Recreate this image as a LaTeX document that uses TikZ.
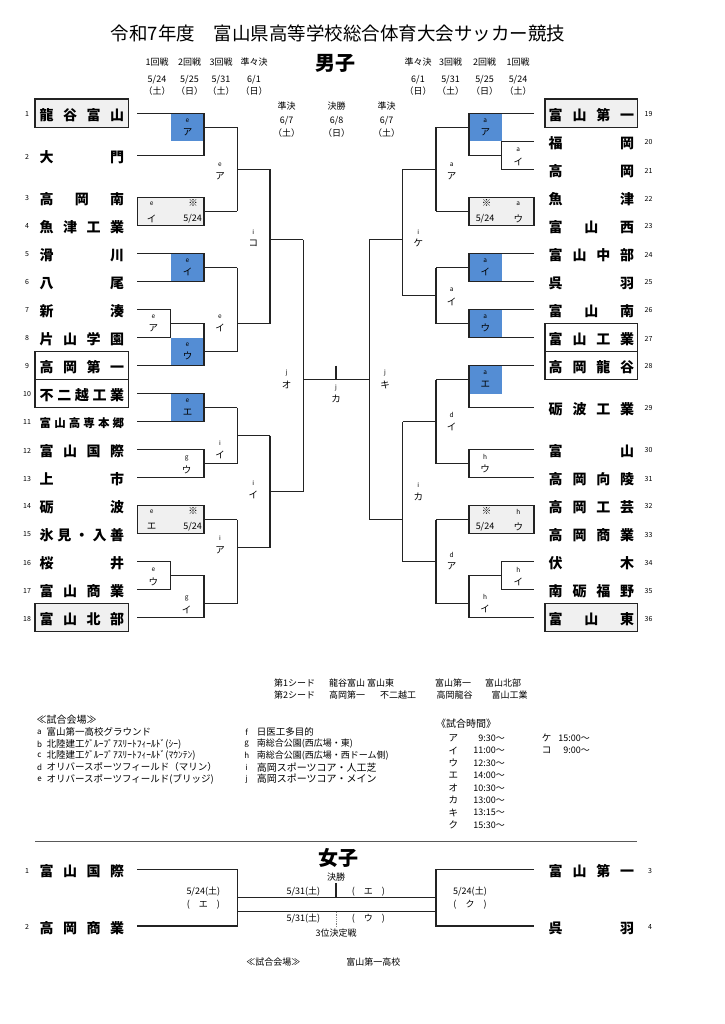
\documentclass[tikz,border=0pt]{standalone}
\usepackage{fontspec}
\setmainfont{Noto Sans CJK JP}
\definecolor{bluebx}{RGB}{84,141,212}
\definecolor{graybx}{RGB}{240,240,240}
\definecolor{linec}{RGB}{35,35,35}
\newcommand\fs[1]{\fontsize{#1}{#1}\selectfont}
\tikzset{
  ln/.style={line width=1.1pt,draw=linec},
  txt/.style={inner sep=0pt,font=\fs{9}},
  sm/.style={inner sep=0pt,font=\fs{6.5}},
  kn/.style={inner sep=0pt,font=\fs{9.5}},
  num/.style={inner sep=0pt,font=\fs{7}},
  seedA/.style={ln,fill=graybx},
  seedB/.style={ln,fill=white},
}
\newcommand\Lname[4]{\node[anchor=west,inner sep=0pt] (#1) at (39.5,#2+2) {\fs{#3}\bfseries\hbox to 84.5pt{#4}};}
\newcommand\Rname[4]{\node[anchor=west,inner sep=0pt] (#1) at (548.5,#2+2) {\fs{#3}\bfseries\hbox to 85.5pt{#4}};}
\newcommand\mlab[5]{\node[sm] (#1a) at (#2,#3) {#4}; \node[kn] (#1b) at (#2,#3+11.5) {#5};}
\begin{document}
\begin{tikzpicture}[x=1pt,y=-1pt]
\useasboundingbox (0,0) rectangle (724,1024);
% ---------- header ----------
\node[inner sep=0pt,font=\fs{18.5}] (title) at (338,33) {令和7年度　富山県高等学校総合体育大会サッカー競技};
\node[inner sep=0pt,font=\fs{20}\bfseries] (boys) at (335,63) {男子};
\node[txt] (h1) at (157,61.7) {1回戦};
\node[txt] (h2) at (189.5,61.7) {2回戦};
\node[txt] (h3) at (221,61.7) {3回戦};
\node[txt] (h4) at (254,61.7) {準々決};
\node[txt] (d1) at (157,80) {5/24};
\node[txt] (d2) at (189.5,80) {5/25};
\node[txt] (d3) at (221,80) {5/31};
\node[txt] (d4) at (254,80) {6/1};
\node[txt] (p1) at (157,91.5) {（土）};
\node[txt] (p2) at (189.5,91.5) {（日）};
\node[txt] (p3) at (221,91.5) {（土）};
\node[txt] (p4) at (254,91.5) {（日）};
\node[txt] (h5) at (418,61.7) {準々決};
\node[txt] (h6) at (450.5,61.7) {3回戦};
\node[txt] (h7) at (484.5,61.7) {2回戦};
\node[txt] (h8) at (518,61.7) {1回戦};
\node[txt] (d5) at (418,80) {6/1};
\node[txt] (d6) at (450.5,80) {5/31};
\node[txt] (d7) at (484.5,80) {5/25};
\node[txt] (d8) at (518,80) {5/24};
\node[txt] (p5) at (418,91.5) {（日）};
\node[txt] (p6) at (450.5,91.5) {（土）};
\node[txt] (p7) at (484.5,91.5) {（日）};
\node[txt] (p8) at (518,91.5) {（土）};
\node[txt] (c1) at (286.7,106) {準決};
\node[txt] (c2) at (286.7,121) {6/7};
\node[txt] (c3) at (286.7,133.3) {（土）};
\node[txt] (c4) at (336.7,106) {決勝};
\node[txt] (c5) at (336.7,121) {6/8};
\node[txt] (c6) at (336.7,133.3) {（日）};
\node[txt] (c7) at (386.7,106) {準決};
\node[txt] (c8) at (386.7,121) {6/7};
\node[txt] (c9) at (386.7,133.3) {（土）};
% ---------- seed boxes ----------
\draw[seedA] (35,99) rectangle (128.5,127.5);
\draw[seedB] (35,351.5) rectangle (128.5,379.5);
\draw[seedB] (35,379.5) rectangle (128.5,407.5);
\draw[seedA] (35,603.5) rectangle (128.5,631.5);
\draw[seedA] (545,99) rectangle (637.5,127.5);
\draw[seedB] (545,323.5) rectangle (637.5,351.5);
\draw[seedB] (545,351.5) rectangle (637.5,379.5);
\draw[seedA] (545,603.5) rectangle (637.5,631.5);
% ---------- fills ----------
\fill[bluebx] (171,113.5) rectangle (204,141.5);
\fill[bluebx] (171,253.5) rectangle (204,281.5);
\fill[bluebx] (171,337.5) rectangle (204,365.5);
\fill[bluebx] (171,393.5) rectangle (204,421.5);
\fill[bluebx] (469,113.5) rectangle (501.7,141.5);
\fill[bluebx] (469,253.5) rectangle (501.7,281.5);
\fill[bluebx] (469,309.5) rectangle (501.7,337.5);
\fill[bluebx] (469,365.5) rectangle (501.7,393.5);
\draw[seedA] (137.3,197.5) rectangle (204,225.5);
\draw[seedA] (137.3,505.5) rectangle (204,533.5);
\draw[seedA] (469,197.5) rectangle (534,225.5);
\draw[seedA] (469,505.5) rectangle (534,533.5);
% ---------- left bracket ----------
\draw[ln] (137.3,113.5) -- (204,113.5) -- (204,155.5) -- (137.3,155.5);
\draw[ln] (204,127.5) -- (237.3,127.5);
\draw[ln] (204,211.5) -- (237.3,211.5);
\draw[ln] (237.3,127.5) -- (237.3,211.5);
\draw[ln] (237.3,169.5) -- (270,169.5);
\draw[ln] (137.3,253.5) -- (204,253.5) -- (204,281.5) -- (137.3,281.5);
\draw[ln] (204,267.5) -- (237.3,267.5);
\draw[ln] (137.3,309.5) -- (170.7,309.5) -- (170.7,337.5) -- (137.3,337.5);
\draw[ln] (170.7,323.5) -- (204,323.5) -- (204,365.5) -- (137.3,365.5);
\draw[ln] (204,351.5) -- (237.3,351.5);
\draw[ln] (237.3,267.5) -- (237.3,351.5);
\draw[ln] (237.3,323.5) -- (270,323.5);
\draw[ln] (270,169.5) -- (270,323.5);
\draw[ln] (270,239.5) -- (303.3,239.5);
\draw[ln] (137.3,393.5) -- (204,393.5) -- (204,421.5) -- (137.3,421.5);
\draw[ln] (204,407.5) -- (237.3,407.5);
\draw[ln] (137.3,449.5) -- (204,449.5) -- (204,477.5) -- (137.3,477.5);
\draw[ln] (204,463.5) -- (237.3,463.5);
\draw[ln] (237.3,407.5) -- (237.3,463.5);
\draw[ln] (237.3,435.5) -- (270,435.5);
\draw[ln] (204,519.5) -- (237.3,519.5);
\draw[ln] (137.3,561.5) -- (170.7,561.5) -- (170.7,589.5) -- (137.3,589.5);
\draw[ln] (170.7,575.5) -- (204,575.5) -- (204,617.5) -- (137.3,617.5);
\draw[ln] (204,603.5) -- (237.3,603.5);
\draw[ln] (237.3,519.5) -- (237.3,603.5);
\draw[ln] (237.3,547.5) -- (270,547.5);
\draw[ln] (270,435.5) -- (270,547.5);
\draw[ln] (270,491.5) -- (303.3,491.5);
\draw[ln] (303.3,239.5) -- (303.3,491.5);
\draw[ln] (303.3,379.5) -- (369.3,379.5);
\draw[ln] (336,365.5) -- (336,379.5);
% ---------- right bracket ----------
\draw[ln] (534,113.5) -- (469,113.5) -- (469,155.5) -- (501.7,155.5);
\draw[ln] (534,141.5) -- (501.7,141.5) -- (501.7,169.5) -- (534,169.5);
\draw[ln] (469,127.5) -- (436,127.5);
\draw[ln] (469,211.5) -- (436,211.5);
\draw[ln] (436,127.5) -- (436,211.5);
\draw[ln] (436,169.5) -- (402.7,169.5);
\draw[ln] (534,253.5) -- (469,253.5) -- (469,281.5) -- (534,281.5);
\draw[ln] (469,267.5) -- (436,267.5);
\draw[ln] (534,309.5) -- (469,309.5) -- (469,337.5) -- (534,337.5);
\draw[ln] (469,323.5) -- (436,323.5);
\draw[ln] (436,267.5) -- (436,323.5);
\draw[ln] (436,295.5) -- (402.7,295.5);
\draw[ln] (402.7,169.5) -- (402.7,295.5);
\draw[ln] (402.7,239.5) -- (369.3,239.5);
\draw[ln] (534,365.5) -- (469,365.5) -- (469,407.5) -- (534,407.5);
\draw[ln] (469,379.5) -- (436,379.5);
\draw[ln] (534,449.5) -- (469,449.5) -- (469,477.5) -- (534,477.5);
\draw[ln] (469,463.5) -- (436,463.5);
\draw[ln] (436,379.5) -- (436,463.5);
\draw[ln] (436,421.5) -- (402.7,421.5);
\draw[ln] (469,519.5) -- (436,519.5);
\draw[ln] (534,561.5) -- (501.7,561.5) -- (501.7,589.5) -- (534,589.5);
\draw[ln] (501.7,575.5) -- (469,575.5) -- (469,617.5) -- (534,617.5);
\draw[ln] (469,603.5) -- (436,603.5);
\draw[ln] (436,519.5) -- (436,603.5);
\draw[ln] (436,561.5) -- (402.7,561.5);
\draw[ln] (402.7,421.5) -- (402.7,561.5);
\draw[ln] (402.7,519.5) -- (369.3,519.5);
\draw[ln] (369.3,239.5) -- (369.3,519.5);
% ---------- match labels left ----------
\mlab{m1}{187.5}{120.5}{e}{ア}
\mlab{m2}{187.5}{260.5}{e}{イ}
\mlab{m3}{187.5}{344.5}{e}{ウ}
\mlab{m4}{187.5}{400.5}{e}{エ}
\node[sm] (g1a) at (151.7,204) {e};
\node[kn] (g1b) at (193,203) {※};
\node[kn] (g1c) at (151.7,218.5) {イ};
\node[txt] (g1d) at (192.7,218.5) {5/24};
\node[sm] (g2a) at (151.7,512) {e};
\node[kn] (g2b) at (193,511) {※};
\node[kn] (g2c) at (151.7,526.5) {エ};
\node[txt] (g2d) at (192.7,526.5) {5/24};
\mlab{m5}{220}{165}{e}{ア}
\mlab{m6}{153.3}{316.5}{e}{ア}
\mlab{m7}{220}{316.7}{e}{イ}
\mlab{m8}{253.3}{231.7}{i}{コ}
\mlab{m9}{186.7}{458.3}{g}{ウ}
\mlab{m10}{220}{443.3}{i}{イ}
\mlab{m11}{153.3}{570}{e}{ウ}
\mlab{m12}{186.7}{598.3}{g}{イ}
\mlab{m13}{220}{538.3}{i}{ア}
\mlab{m14}{253.3}{483.3}{i}{イ}
\mlab{m15}{286.7}{373}{j}{オ}
\mlab{m16}{336}{387.5}{j}{カ}
% ---------- match labels right ----------
\mlab{r1}{485.3}{120.5}{a}{ア}
\mlab{r2}{485.3}{260.5}{a}{イ}
\mlab{r3}{485.3}{316.5}{a}{ウ}
\mlab{r4}{485.3}{372.5}{a}{エ}
\mlab{r5}{518.3}{150}{a}{イ}
\node[kn] (g3a) at (486.7,203) {※};
\node[sm] (g3b) at (518.3,204) {a};
\node[txt] (g3c) at (485,218.5) {5/24};
\node[kn] (g3d) at (518.3,218.5) {ウ};
\node[kn] (g4a) at (486.7,511) {※};
\node[sm] (g4b) at (518.3,512) {h};
\node[txt] (g4c) at (485,526.5) {5/24};
\node[kn] (g4d) at (518.3,526.5) {ウ};
\mlab{r6}{451.7}{165}{a}{ア}
\mlab{r7}{451.7}{290}{a}{イ}
\mlab{r8}{418.3}{231.7}{i}{ケ}
\mlab{r9}{485}{457}{h}{ウ}
\mlab{r10}{451.7}{415}{d}{イ}
\mlab{r11}{518.3}{570}{h}{イ}
\mlab{r12}{485}{597}{h}{イ}
\mlab{r13}{451.7}{555}{d}{ア}
\mlab{r14}{418.3}{485}{i}{カ}
\mlab{r15}{385}{373}{j}{キ}
% ---------- team names left ----------
\Lname{t1}{113.5}{14}{龍\hfill 谷\hfill 富\hfill 山}
\Lname{t2}{155.5}{14}{大\hfill 門}
\Lname{t3}{197.5}{14}{高\hfill 岡\hfill 南}
\Lname{t4}{225.5}{14}{魚\hfill 津\hfill 工\hfill 業}
\Lname{t5}{253.5}{14}{滑\hfill 川}
\Lname{t6}{281.5}{14}{八\hfill 尾}
\Lname{t7}{309.5}{14}{新\hfill 湊}
\Lname{t8}{337.5}{14}{片\hfill 山\hfill 学\hfill 園}
\Lname{t9}{365.5}{14}{高\hfill 岡\hfill 第\hfill 一}
\Lname{t10}{393.5}{14}{不\hfill 二\hfill 越\hfill 工\hfill 業}
\Lname{t11}{421.5}{11.5}{富\hfill 山\hfill 高\hfill 専\hfill 本\hfill 郷}
\Lname{t12}{449.5}{14}{富\hfill 山\hfill 国\hfill 際}
\Lname{t13}{477.5}{14}{上\hfill 市}
\Lname{t14}{505.5}{14}{砺\hfill 波}
\Lname{t15}{533.5}{14}{氷\hfill 見\hfill ・\hfill 入\hfill 善}
\Lname{t16}{561.5}{14}{桜\hfill 井}
\Lname{t17}{589.5}{14}{富\hfill 山\hfill 商\hfill 業}
\Lname{t18}{617.5}{14}{富\hfill 山\hfill 北\hfill 部}
% ---------- team names right ----------
\Rname{t19}{113.5}{14}{富\hfill 山\hfill 第\hfill 一}
\Rname{t20}{141.5}{14}{福\hfill 岡}
\Rname{t21}{169.5}{14}{高\hfill 岡}
\Rname{t22}{197.5}{14}{魚\hfill 津}
\Rname{t23}{225.5}{14}{富\hfill 山\hfill 西}
\Rname{t24}{253.5}{14}{富\hfill 山\hfill 中\hfill 部}
\Rname{t25}{281.5}{14}{呉\hfill 羽}
\Rname{t26}{309.5}{14}{富\hfill 山\hfill 南}
\Rname{t27}{337.5}{14}{富\hfill 山\hfill 工\hfill 業}
\Rname{t28}{365.5}{14}{高\hfill 岡\hfill 龍\hfill 谷}
\Rname{t29}{407.5}{14}{砺\hfill 波\hfill 工\hfill 業}
\Rname{t30}{449.5}{14}{富\hfill 山}
\Rname{t31}{477.5}{14}{高\hfill 岡\hfill 向\hfill 陵}
\Rname{t32}{505.5}{14}{高\hfill 岡\hfill 工\hfill 芸}
\Rname{t33}{533.5}{14}{高\hfill 岡\hfill 商\hfill 業}
\Rname{t34}{561.5}{14}{伏\hfill 木}
\Rname{t35}{589.5}{14}{南\hfill 砺\hfill 福\hfill 野}
\Rname{t36}{617.5}{14}{富\hfill 山\hfill 東}
% ---------- team numbers ----------
\foreach \n/\yy in {1/113.5,2/155.5,3/197.5,4/225.5,5/253.5,6/281.5,7/309.5,8/337.5,9/365.5,10/393.5,11/421.5,12/449.5,13/477.5,14/505.5,15/533.5,16/561.5,17/589.5,18/617.5}
  \node[num] (n\n) at (27,\yy+1) {\n};
\foreach \n/\yy in {19/113.5,20/141.5,21/169.5,22/197.5,23/225.5,24/253.5,25/281.5,26/309.5,27/337.5,28/365.5,29/407.5,30/449.5,31/477.5,32/505.5,33/533.5,34/561.5,35/589.5,36/617.5}
  \node[num] (n\n) at (648.5,\yy+1) {\n};
% ---------- seeds ----------
\node[txt,anchor=west] (s1) at (274,683.5) {第1シード};
\node[txt,anchor=west] (s2) at (329,683.5) {龍谷富山};
\node[txt,anchor=west] (s3) at (367,683.5) {富山東};
\node[txt,anchor=west] (s4) at (435,683.5) {富山第一};
\node[txt,anchor=west] (s5) at (485,683.5) {富山北部};
\node[txt,anchor=west] (s6) at (274,695) {第2シード};
\node[txt,anchor=west] (s7) at (329,695) {高岡第一};
\node[txt,anchor=west] (s8) at (380,695) {不二越工};
\node[txt,anchor=west] (s9) at (436.5,695) {高岡龍谷};
\node[txt,anchor=west] (s10) at (491.5,695) {富山工業};
% ---------- venues ----------
\node[inner sep=0pt,anchor=west,font=\fs{10}] (ven) at (36.5,720) {≪試合会場≫};
\foreach \k/\yy/\tx in {a/732.3/富山第一高校グラウンド,b/744/北陸建工ｸﾞﾙｰﾌﾟｱｽﾘｰﾄﾌｨｰﾙﾄﾞ(ｼｰ),c/755.7/北陸建工ｸﾞﾙｰﾌﾟｱｽﾘｰﾄﾌｨｰﾙﾄﾞ(ﾏｳﾝﾃﾝ),d/767.3/オリバースポーツフィールド（マリン）,e/779/オリバースポーツフィールド(ブリッジ)}{
  \node[inner sep=0pt,font=\fs{8}] (vl\k) at (39.5,\yy) {\k};
  \node[inner sep=0pt,anchor=west,font=\fs{9.5}] (vt\k) at (46.5,\yy) {\tx};
}
\foreach \k/\yy/\tx/\sz in {f/732.3/日医工多目的/9.5,g/744/南総合公園(西広場・東)/9,h/755.7/南総合公園(西広場・西ドーム側)/9,i/767.3/高岡スポーツコア・人工芝/10,j/779/高岡スポーツコア・メイン/10}{
  \node[inner sep=0pt,font=\fs{8}] (vl\k) at (246.7,\yy) {\k};
  \node[inner sep=0pt,anchor=west,font=\fs{\sz}] (vt\k) at (256.7,\yy) {\tx};
}
% ---------- times ----------
\node[inner sep=0pt,anchor=west,font=\fs{10}] (tim) at (436,723.3) {《試合時間》};
\foreach \k/\yy/\tx in {1/738.3/ア,2/750.7/イ,3/763.1/ウ,4/775.5/エ,5/787.9/オ,6/800.3/カ,7/812.7/キ,8/825.1/ク}{
  \node[kn] (tk\k) at (453.3,\yy) {\tx};
}
\foreach \k/\yy/\tx in {1/738.3/9:30～,2/750.7/11:00～,3/763.1/12:30～,4/775.5/14:00～,5/787.9/10:30～,6/800.3/13:00～,7/812.7/13:15～,8/825.1/15:30～}{
  \node[inner sep=0pt,anchor=east,font=\fs{9}] (tv\k) at (505,\yy) {\tx};
}
\node[kn] (tk9) at (546.7,738.3) {ケ};
\node[inner sep=0pt,anchor=east,font=\fs{9}] (tv9) at (590,738.3) {15:00～};
\node[kn] (tk10) at (546.7,750.7) {コ};
\node[inner sep=0pt,anchor=east,font=\fs{9}] (tv10) at (590,750.7) {9:00～};
% ---------- separator ----------
\coordinate (sepL) at (35,841.5);
\coordinate (sepR) at (637,841.5);
\draw[line width=1.8pt,draw=black!65] (sepL) -- (sepR);
% ---------- girls ----------
\node[inner sep=0pt,font=\fs{20}\bfseries] (girls) at (338,858) {女子};
\draw[ln] (137.3,869.5) -- (237.3,869.5) -- (237.3,926) -- (137.3,926);
\draw[ln] (534,869.5) -- (436,869.5) -- (436,926) -- (534,926);
\draw[ln] (237.3,897.7) -- (436,897.7);
\draw[ln] (237.3,911.7) -- (436,911.7);
\draw[ln] (336,883.3) -- (336,897.7);
\draw[line width=0.8pt,draw=gray,densely dotted] (336,911.7) -- (336,926.7);
\Lname{w1}{869.5}{14}{富\hfill 山\hfill 国\hfill 際}
\Lname{w2}{926}{14}{高\hfill 岡\hfill 商\hfill 業}
\Rname{w3}{869.5}{14}{富\hfill 山\hfill 第\hfill 一}
\Rname{w4}{926}{14}{呉\hfill 羽}
\node[num] (wn1) at (27,870.5) {1};
\node[num] (wn2) at (27,927) {2};
\node[num] (wn3) at (650,870.5) {3};
\node[num] (wn4) at (650,927) {4};
\node[txt] (wa1) at (203.3,891.7) {5/24(土)};
\node[txt] (wa2) at (203.3,904.3) {(　エ　)};
\node[txt] (wb1) at (470,891.7) {5/24(土)};
\node[txt] (wb2) at (470,904.3) {(　ク　)};
\node[txt] (wc1) at (336,876.7) {決勝};
\node[txt] (wc2) at (303.3,891.7) {5/31(土)};
\node[txt] (wc3) at (368.3,891.7) {(　エ　)};
\node[txt] (wc4) at (303.3,918.3) {5/31(土)};
\node[txt] (wc5) at (368.3,918.3) {(　ウ　)};
\node[txt] (wc6) at (336,932.7) {3位決定戦};
\node[txt] (wd1) at (273.3,961.7) {≪試合会場≫};
\node[txt] (wd2) at (373.3,961.7) {富山第一高校};
\end{tikzpicture}
\end{document}
